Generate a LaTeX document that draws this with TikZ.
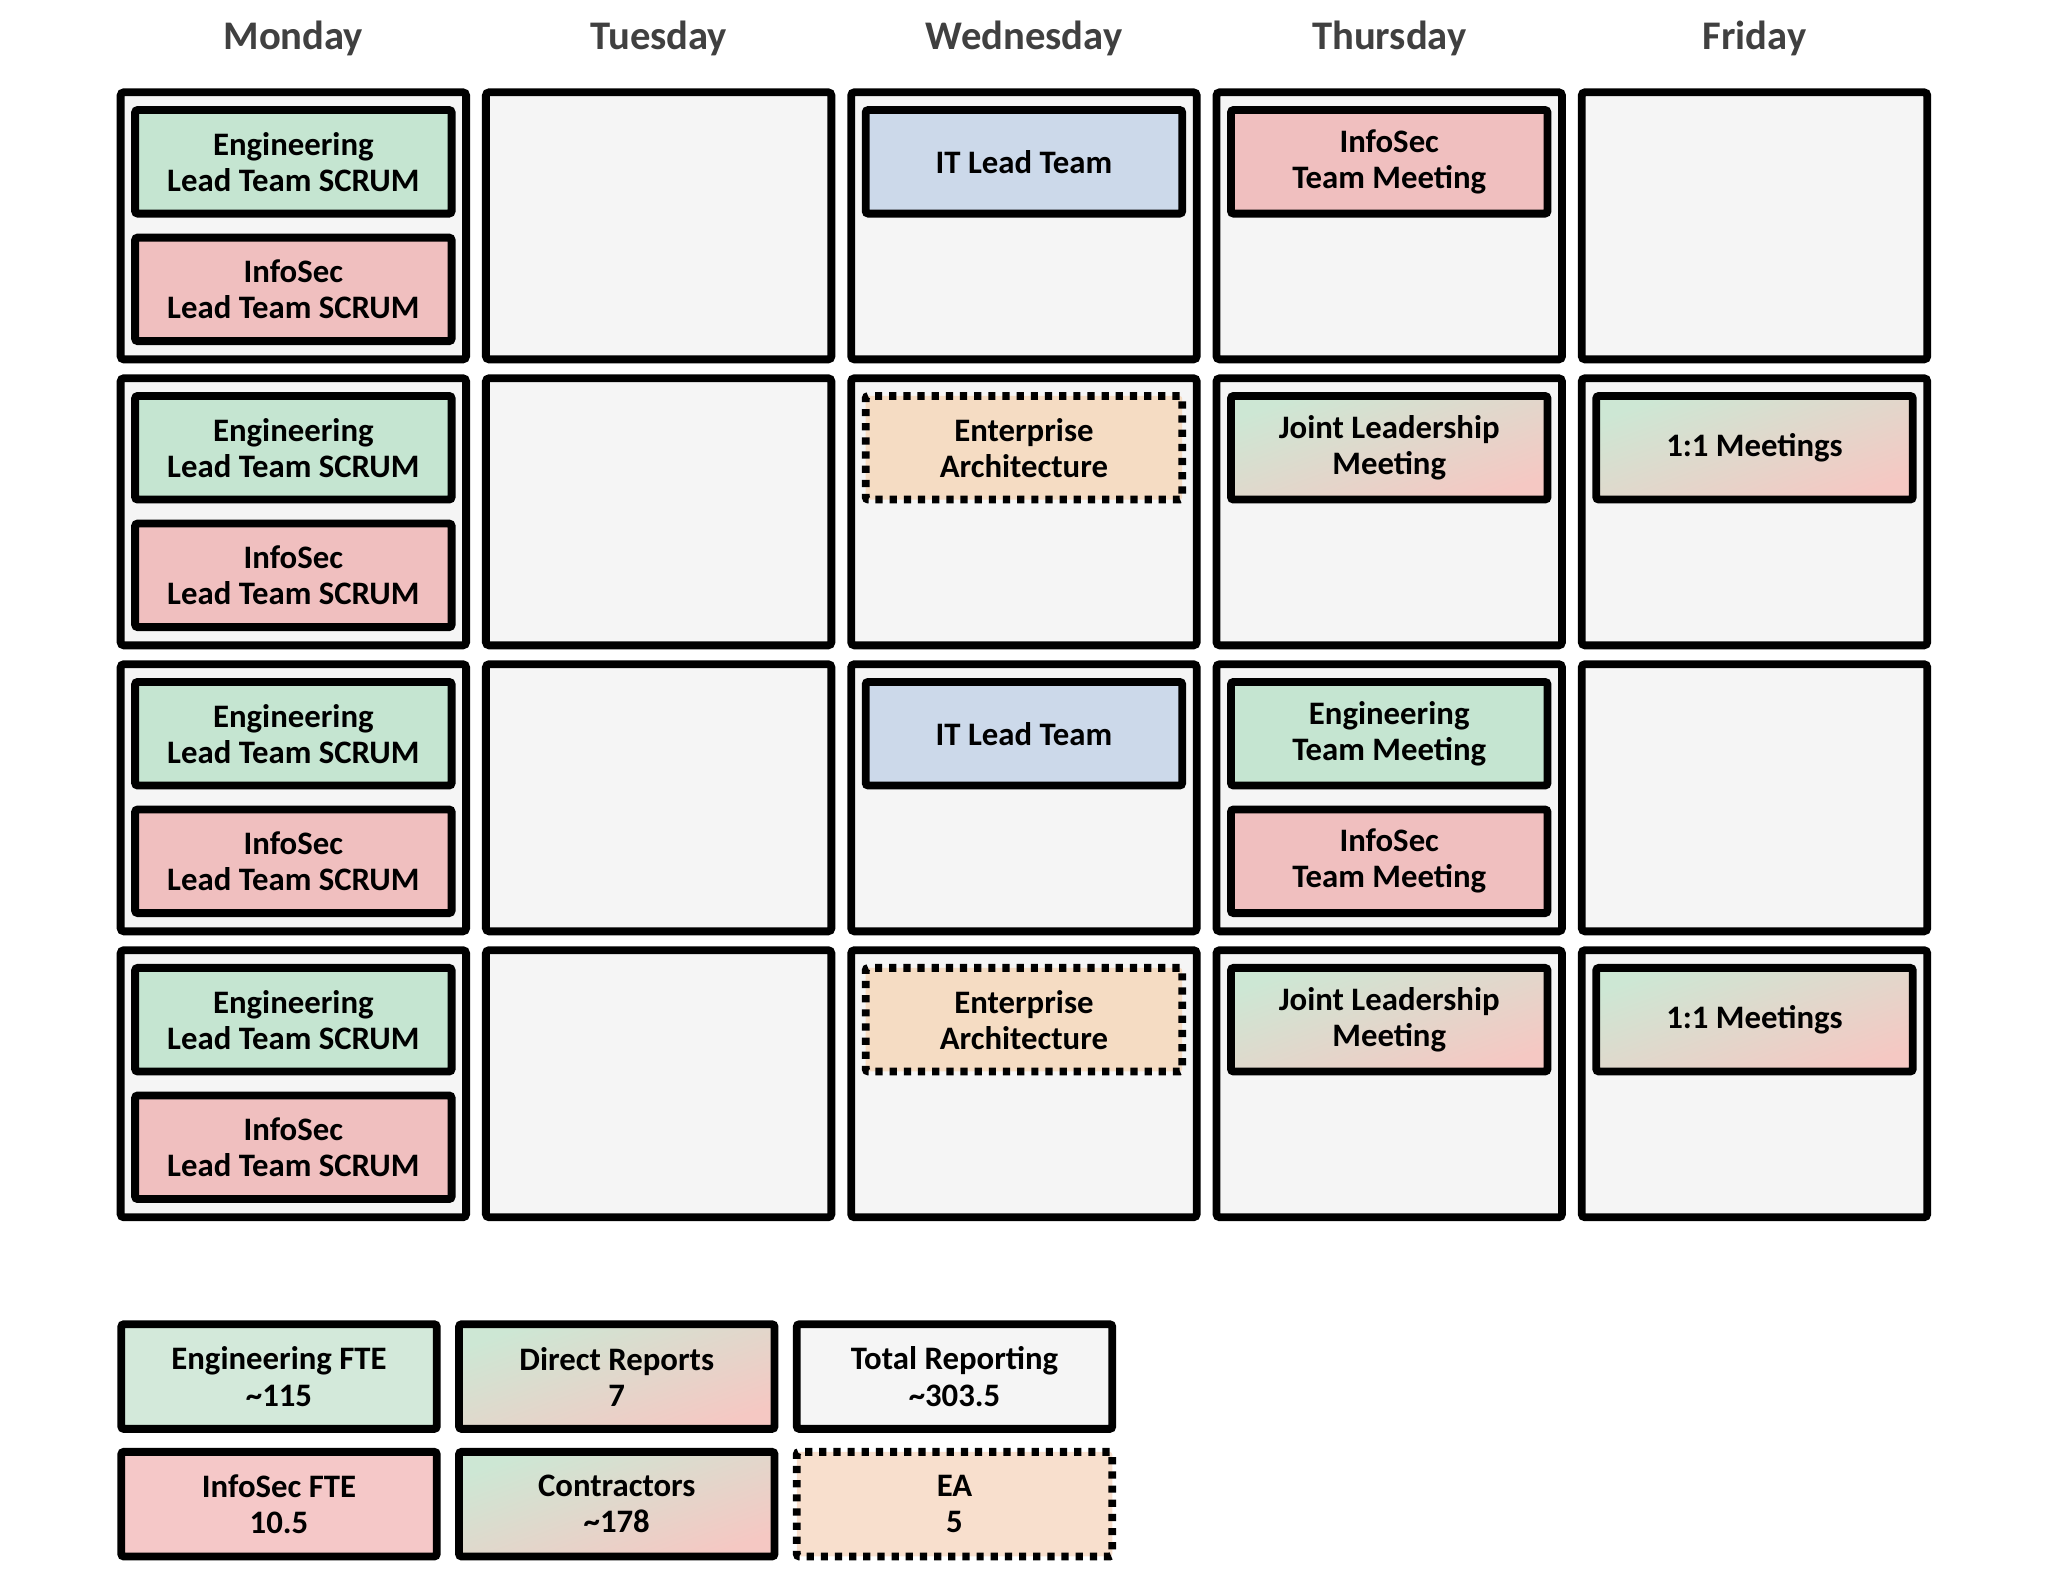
\documentclass[tikz,border=0pt]{standalone}
\usepackage{fontspec}
\setmainfont{Carlito}
\usepackage{tikz}
\usepackage{xcolor}

\begin{document}
\begin{tikzpicture}[x=1pt,y=-1pt,
  dayname/.style={font=\bfseries\fontsize{31}{35}\selectfont,text=titlegrey},
  daycell/.style={draw,line width=6pt,rounded corners=2.5pt,fill=cellgrey,minimum width=263.5pt,minimum height=203.7pt},
  meet/.style={draw,line width=6pt,rounded corners=2pt,minimum width=241.4pt,minimum height=79pt,inner sep=0pt,align=center,font=\bfseries\fontsize{25}{27.5}\selectfont},
  legbox/.style={meet,minimum width=240.6pt,minimum height=79.8pt},
  dotted box/.style={line cap=butt,dash pattern=on 5.5pt off 5.3pt},
  mixed/.style={top color=mixtop,middle color=mixmid,bottom color=mixbot,shading angle=20}]
\definecolor{titlegrey}{HTML}{404040}
\definecolor{cellgrey}{HTML}{F5F5F5}
\definecolor{enggreen}{HTML}{C5E5D1}
\definecolor{secpink}{HTML}{F0BFBF}
\definecolor{itblue}{HTML}{CCD9EA}
\definecolor{eapeach}{HTML}{F5DCC3}
\definecolor{mixtop}{HTML}{CDE7D4}
\definecolor{mixmid}{HTML}{EBDFCC}
\definecolor{mixbot}{HTML}{F5C8C3}
\definecolor{legreen}{HTML}{D3E9DA}
\definecolor{lepink}{HTML}{F5C8C8}
\definecolor{lepeach}{HTML}{F8DFCD}
\useasboundingbox (0,0) rectangle (1562,1213.4);
% week grid
\foreach \dname/\col in {Monday/0,Tuesday/1,Wednesday/2,Thursday/3,Friday/4}
{ \node[dayname] (day-\col) at ({223.75+278.6*\col},29) {\dname};
  \foreach \row in {0,...,3}
  { \node[daycell] (cell-\col-\row) at ({223.75+278.6*\col},{172.25+218.1*\row}) {};}}
% monday
\foreach \row in {0,...,3}
{ \node[meet,fill=enggreen] (eng-\row) at (223.75,{123.4+218.1*\row}) {Engineering\\Lead Team SCRUM};
  \node[meet,fill=secpink] (sec-\row) at (223.75,{220.7+218.1*\row}) {InfoSec\\Lead Team SCRUM};}
% wednesday
\node[meet,fill=itblue] (it-1) at (780.95,123.4) {IT Lead Team};
\node[meet,dotted box,fill=eapeach] (ea-1) at (780.95,341.5) {Enterprise\\Architecture};
\node[meet,fill=itblue] (it-2) at (780.95,559.6) {IT Lead Team};
\node[meet,dotted box,fill=eapeach] (ea-2) at (780.95,777.7) {Enterprise\\Architecture};
% thursday
\node[meet,fill=secpink] (secteam-1) at (1059.55,123.4) {InfoSec\\Team Meeting};
\node[meet,mixed] (joint-1) at (1059.55,341.5) {Joint Leadership\\Meeting};
\node[meet,fill=enggreen] (engteam) at (1059.55,559.6) {Engineering\\Team Meeting};
\node[meet,fill=secpink] (secteam-2) at (1059.55,656.9) {InfoSec\\Team Meeting};
\node[meet,mixed] (joint-2) at (1059.55,777.7) {Joint Leadership\\Meeting};
% friday
\node[meet,mixed] (oneone-1) at (1338.15,341.5) {1:1 Meetings};
\node[meet,mixed] (oneone-2) at (1338.15,777.7) {1:1 Meetings};
% legend
\node[legbox,fill=legreen] (leg-eng) at (212.8,1049.9) {Engineering FTE\\\textasciitilde115};
\node[legbox,mixed] (leg-direct) at (470.4,1049.9) {Direct Reports\\7};
\node[legbox,fill=cellgrey] (leg-total) at (728,1049.9) {Total Reporting\\\textasciitilde303.5};
\node[legbox,fill=lepink] (leg-sec) at (212.8,1147.2) {InfoSec FTE\\10.5};
\node[legbox,mixed] (leg-contr) at (470.4,1147.2) {Contractors\\\textasciitilde178};
\node[legbox,dotted box,fill=lepeach] (leg-ea) at (728,1147.2) {EA\\5};
\end{tikzpicture}
\end{document}
